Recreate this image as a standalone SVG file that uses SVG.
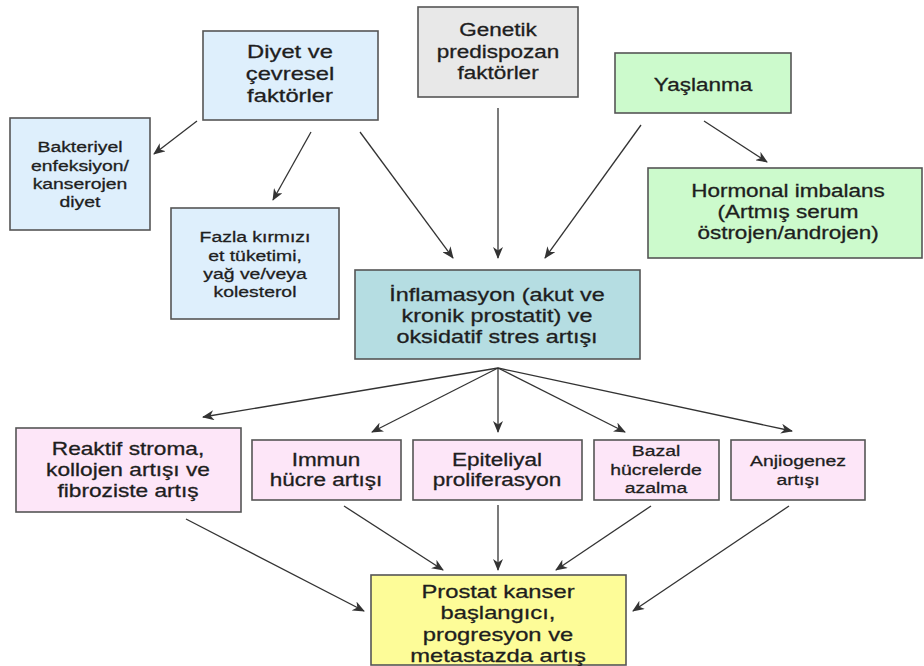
<svg xmlns="http://www.w3.org/2000/svg" width="924" height="666" viewBox="0 0 924 666">
  <defs>
    <marker id="arrow" viewBox="0 0 12 10" refX="11" refY="5" markerWidth="12" markerHeight="10" markerUnits="userSpaceOnUse" orient="auto">
      <path d="M0,0 L12,5 L0,10 L3.5,5 z" fill="#333"/>
    </marker>
    <style>
      .box { stroke: #555; stroke-width: 1.6; }
      .blue { fill: #deeffc; }
      .gray { fill: #e8e8e8; }
      .green { fill: #ccfacc; }
      .teal { fill: #b5dde2; }
      .pink { fill: #fde6f8; }
      .yellow { fill: #fdfc98; }
      text { font-family: "Liberation Sans", Arial, sans-serif; fill: #1e1e1e; stroke: #1e1e1e; stroke-width: 0.3; text-anchor: middle; }
      .l { font-size: 19px; }
      .m { font-size: 18px; }
      .s { font-size: 15.5px; }
      .edge { stroke: #333; stroke-width: 1.3; fill: none; marker-end: url(#arrow); }
    </style>
  </defs>
  <rect width="924" height="666" fill="#ffffff"/>

  <!-- labels are set in a slightly widened face: each label group is scaled 1.25 horizontally about the box centre -->
  <g id="diyet">
    <rect class="box blue" x="203" y="31" width="175" height="89"/>
    <g transform="translate(290 0) scale(1.25 1)">
      <text class="l" x="0" y="58">Diyet ve</text>
      <text class="l" x="0" y="80">çevresel</text>
      <text class="l" x="0" y="102">faktörler</text>
    </g>
  </g>

  <g id="genetik">
    <rect class="box gray" x="418" y="7" width="160" height="90"/>
    <g transform="translate(498 0) scale(1.25 1)">
      <text class="m" x="0" y="36">Genetik</text>
      <text class="m" x="0" y="58">predispozan</text>
      <text class="m" x="0" y="79">faktörler</text>
    </g>
  </g>

  <g id="yaslanma">
    <rect class="box green" x="615" y="53" width="176" height="60"/>
    <g transform="translate(703 0) scale(1.25 1)">
      <text class="m" x="0" y="91">Yaşlanma</text>
    </g>
  </g>

  <g id="bakteriyel">
    <rect class="box blue" x="10" y="118" width="140" height="112"/>
    <g transform="translate(80 0) scale(1.25 1)">
      <text class="s" x="0" y="152">Bakteriyel</text>
      <text class="s" x="0" y="171">enfeksiyon/</text>
      <text class="s" x="0" y="189">kanserojen</text>
      <text class="s" x="0" y="207">diyet</text>
    </g>
  </g>

  <g id="fazla">
    <rect class="box blue" x="171" y="208" width="168" height="111"/>
    <g transform="translate(255 0) scale(1.25 1)">
      <text class="s" x="0" y="242">Fazla kırmızı</text>
      <text class="s" x="0" y="261">et tüketimi,</text>
      <text class="s" x="0" y="279">yağ ve/veya</text>
      <text class="s" x="0" y="297">kolesterol</text>
    </g>
  </g>

  <g id="hormonal">
    <rect class="box green" x="648" y="168" width="274" height="90"/>
    <g transform="translate(788 0) scale(1.25 1)">
      <text class="m" x="0" y="197">Hormonal imbalans</text>
      <text class="m" x="0" y="218">(Artmış serum</text>
      <text class="m" x="0" y="239">östrojen/androjen)</text>
    </g>
  </g>

  <g id="inflamasyon">
    <rect class="box teal" x="355" y="270" width="285" height="89"/>
    <g transform="translate(497 0) scale(1.23 1)">
      <text class="l" x="0" y="301">İnflamasyon (akut ve</text>
      <text class="l" x="0" y="322">kronik prostatit) ve</text>
      <text class="l" x="0" y="343">oksidatif stres artışı</text>
    </g>
  </g>

  <g id="reaktif">
    <rect class="box pink" x="16" y="428" width="225" height="84"/>
    <g transform="translate(128 0) scale(1.26 1)">
      <text class="m" x="0" y="455">Reaktif stroma,</text>
      <text class="m" x="0" y="476">kollojen artışı ve</text>
      <text class="m" x="0" y="497">fibroziste artış</text>
    </g>
  </g>

  <g id="immun">
    <rect class="box pink" x="252" y="440" width="149" height="60"/>
    <g transform="translate(326 0) scale(1.25 1)">
      <text class="m" x="0" y="466">Immun</text>
      <text class="m" x="0" y="486">hücre artışı</text>
    </g>
  </g>

  <g id="epiteliyal">
    <rect class="box pink" x="413" y="440" width="169" height="60"/>
    <g transform="translate(497 0) scale(1.25 1)">
      <text class="m" x="0" y="466">Epiteliyal</text>
      <text class="m" x="0" y="486">proliferasyon</text>
    </g>
  </g>

  <g id="bazal">
    <rect class="box pink" x="594" y="440" width="125" height="60"/>
    <g transform="translate(656 0) scale(1.25 1)">
      <text class="s" x="0" y="456">Bazal</text>
      <text class="s" x="0" y="475">hücrelerde</text>
      <text class="s" x="0" y="493">azalma</text>
    </g>
  </g>

  <g id="anjiogenez">
    <rect class="box pink" x="731" y="440" width="134" height="60"/>
    <g transform="translate(798 0) scale(1.25 1)">
      <text class="s" x="0" y="466">Anjiogenez</text>
      <text class="s" x="0" y="485">artışı</text>
    </g>
  </g>

  <g id="prostat">
    <rect class="box yellow" x="371" y="575" width="255" height="90"/>
    <g transform="translate(498 0) scale(1.25 1)">
      <text class="l" x="0" y="598">Prostat kanser</text>
      <text class="l" x="0" y="619">başlangıcı,</text>
      <text class="l" x="0" y="641">progresyon ve</text>
      <text class="l" x="0" y="662">metastazda artış</text>
    </g>
  </g>

  <g id="connectors">
    <line class="edge" x1="197" y1="121" x2="154" y2="154"/>
    <line class="edge" x1="311" y1="132" x2="273" y2="200"/>
    <line class="edge" x1="360" y1="132" x2="453" y2="258"/>
    <line class="edge" x1="498" y1="108" x2="498" y2="258"/>
    <line class="edge" x1="641" y1="125" x2="545" y2="258"/>
    <line class="edge" x1="704" y1="121" x2="767" y2="162"/>

    <line class="edge" x1="498" y1="368" x2="203" y2="417"/>
    <line class="edge" x1="498" y1="368" x2="372" y2="432"/>
    <line class="edge" x1="498" y1="368" x2="498" y2="432"/>
    <line class="edge" x1="498" y1="368" x2="625" y2="432"/>
    <line class="edge" x1="498" y1="368" x2="792" y2="431"/>

    <line class="edge" x1="186" y1="519" x2="364" y2="611"/>
    <line class="edge" x1="344" y1="506" x2="443" y2="570"/>
    <line class="edge" x1="498" y1="505" x2="498" y2="570"/>
    <line class="edge" x1="651" y1="506" x2="556" y2="570"/>
    <line class="edge" x1="789" y1="506" x2="633" y2="611"/>
  </g>
</svg>
